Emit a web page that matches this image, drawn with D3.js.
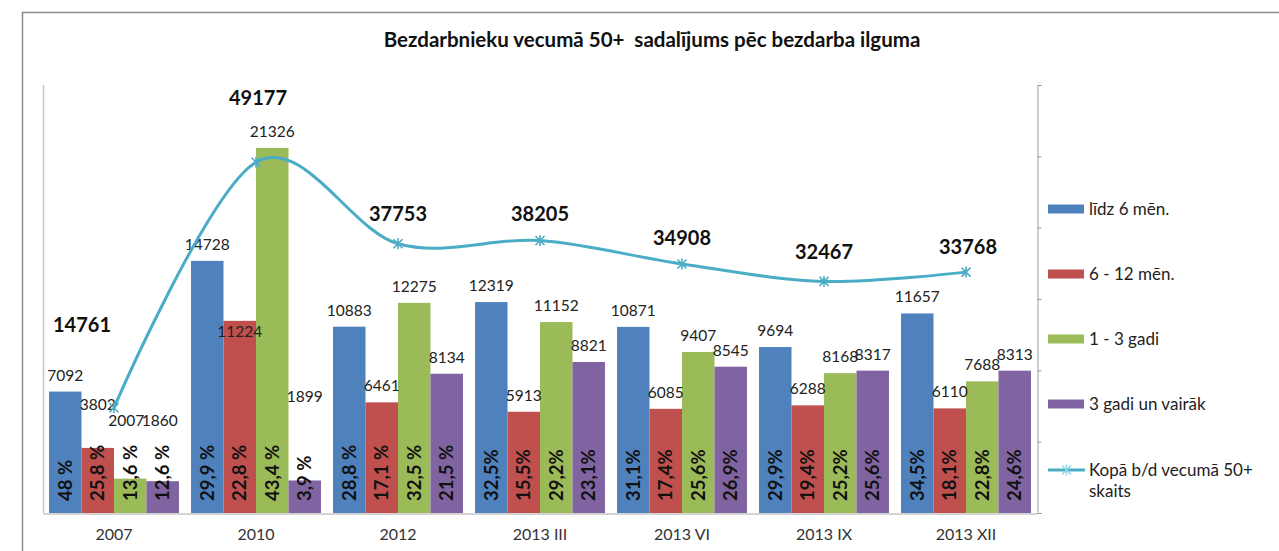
<!DOCTYPE html>
<html lang="lv">
<head>
    <meta charset="UTF-8">
    <title>Bezdarbnieku vecumā 50+ sadalījums pēc bezdarba ilguma</title>
    <script src="https://d3js.org/d3.v7.min.js"></script>
    <style>
        body { margin: 0; background: #fff; }
        svg { display: block; font-family: Lato, "Open Sans", sans-serif; }
    </style>
</head>
<body>
    <svg id="chart" width="1279" height="551"></svg>
    <script>
        // dati
        const categories = ["2007", "2010", "2012", "2013 III", "2013 VI", "2013 IX", "2013 XII"];
        const seriesNames = ["līdz 6 mēn.", "6 - 12 mēn.", "1 - 3 gadi", "3 gadi un vairāk"];
        const upTo6 = [7092, 14728, 10883, 12319, 10871, 9694, 11657];
        const from6to12 = [3802, 11224, 6461, 5913, 6085, 6288, 6110];
        const from1to3 = [2007, 21326, 12275, 11152, 9407, 8168, 7688];
        const over3 = [1860, 1899, 8134, 8821, 8545, 8317, 8313];
        const totalName = "Kopā b/d vecumā 50+ skaits";
        const total = [14761, 49177, 37753, 38205, 34908, 32467, 33768];
        const pctUpTo6 = ["48 %", "29,9 %", "28,8 %", "32,5%", "31,1%", "29,9%", "34,5%"];
        const pct6to12 = ["25,8 %", "22,8 %", "17,1 %", "15,5%", "17,4%", "19,4%", "18,1%"];
        const pct1to3 = ["13,6 %", "43,4 %", "32,5 %", "29,2%", "25,6%", "25,2%", "22,8%"];
        const pctOver3 = ["12,6 %", "3,9 %", "21,5 %", "23,1%", "26,9%", "25,6%", "24,6%"];

        const seriesValues = [upTo6, from6to12, from1to3, over3];
        const seriesPct = [pctUpTo6, pct6to12, pct1to3, pctOver3];
        const colors = ["#4F81BD", "#C0504D", "#9BBB59", "#8064A2"];
        const lineColor = "#4BACC6";

        const svg = d3.select("#chart");
        const plotL = 43, plotR = 1037, plotT = 85, plotB = 513;

        // rāmis
        svg.append("path")
            .attr("d", "M22.5,551 V12.5 H1279")
            .attr("fill", "none").attr("stroke", "#8c8c8c").attr("stroke-width", 1.5);

        svg.append("text")
            .attr("x", 652).attr("y", 47)
            .attr("text-anchor", "middle")
            .attr("font-weight", "bold").attr("font-size", 20.5)
            .attr("fill", "#111")
            .attr("xml:space", "preserve")
            .text("Bezdarbnieku vecumā 50+  sadalījums pēc bezdarba ilguma");

        const x0 = d3.scaleBand().domain(categories).range([plotL, plotR])
            .paddingInner(0.085).paddingOuter(0.0425);
        const x1 = d3.scaleBand().domain(d3.range(4)).range([0, x0.bandwidth()]);
        const y = d3.scaleLinear().domain([0, 25000]).range([plotB, plotT]);
        const y2 = d3.scaleLinear().domain([0, 60000]).range([plotB, plotT]);

        // asis
        svg.append("line").attr("x1", plotL + 0.5).attr("x2", plotL + 0.5)
            .attr("y1", plotT).attr("y2", plotB).attr("stroke", "#c4c4c4").attr("stroke-width", 1.5);

        const rAxis = svg.append("g").attr("transform", `translate(${plotR + 0.5},0)`)
            .call(d3.axisRight(y2).ticks(6).tickSize(4).tickFormat(""));
        rAxis.select(".domain").attr("stroke", "#9a9a9a");
        rAxis.selectAll(".tick line").attr("stroke", "#9a9a9a");

        const xAxis = svg.append("g").attr("transform", `translate(0,${plotB + 0.5})`)
            .call(d3.axisBottom(x0).tickSize(0).tickPadding(15));
        xAxis.select(".domain").attr("stroke", "#c4c4c4").attr("stroke-width", 1.5);
        xAxis.selectAll("text").attr("font-size", 16).attr("fill", "#333")
            .attr("font-family", "Lato, sans-serif");

        // stabiņi
        const groups = svg.append("g").selectAll("g").data(categories).join("g")
            .attr("transform", d => `translate(${x0(d)},0)`);

        groups.selectAll("rect")
            .data((c, ci) => seriesValues.map((s, si) => ({ si, ci, v: s[ci] })))
            .join("rect")
            .attr("x", d => x1(d.si))
            .attr("width", x1.bandwidth())
            .attr("y", d => y(d.v))
            .attr("height", d => plotB - y(d.v))
            .attr("fill", d => colors[d.si]);

        // vērtību etiķetes (Excel pārvietotās)
        const labelShift = {
            "1-0": [0, -38], "2-0": [-4, -53], "3-0": [-3, -55],
            "3-1": [0, -78], "1-1": [0, 16]
        };
        groups.selectAll("text.val")
            .data((c, ci) => seriesValues.map((s, si) => ({ si, ci, v: s[ci] })))
            .join("text").attr("class", "val")
            .attr("x", d => x1(d.si) + x1.bandwidth() / 2 + (labelShift[d.si + "-" + d.ci] || [0, -11])[0])
            .attr("y", d => y(d.v) + (labelShift[d.si + "-" + d.ci] || [0, -11])[1])
            .attr("text-anchor", "middle")
            .attr("font-size", 15.5).attr("fill", "#222")
            .text(d => d.v);

        groups.selectAll("text.pct")
            .data((c, ci) => seriesPct.map((s, si) => ({ si, ci, t: s[ci] })))
            .join("text").attr("class", "pct")
            .attr("transform", d => `translate(${x1(d.si) + x1.bandwidth() / 2 + 6.5},${plotB - 12}) rotate(-90)`)
            .attr("font-size", 18.5).attr("font-weight", "bold").attr("fill", "#111")
            .attr("xml:space", "preserve")
            .text(d => d.t);

        // kopējā līnija
        const pts = total.map((v, i) => [x0(categories[i]) + x0.bandwidth() / 2, y2(v)]);
        svg.append("path")
            .attr("d", d3.line().curve(d3.curveCardinal.tension(0))(pts))
            .attr("fill", "none").attr("stroke", lineColor).attr("stroke-width", 3);

        const star = "M0,-5.5V5.5M-4.5,-4.5L4.5,4.5M-4.5,4.5L4.5,-4.5";
        svg.append("g").selectAll("path").data(pts).join("path")
            .attr("transform", d => `translate(${d[0]},${d[1]})`)
            .attr("d", star).attr("stroke", lineColor).attr("stroke-width", 1.6).attr("fill", "none");

        const totalShift = { 0: [-32, -76], 1: [2, -57], 2: [0, -23], 3: [0, -19], 4: [0, -19], 5: [0, -22], 6: [2, -18] };
        svg.append("g").selectAll("text").data(total).join("text")
            .attr("x", (d, i) => pts[i][0] + totalShift[i][0])
            .attr("y", (d, i) => pts[i][1] + totalShift[i][1])
            .attr("text-anchor", "middle")
            .attr("font-size", 20).attr("font-weight", "bold").attr("fill", "#111")
            .text(d => d);

        // leģenda
        const legend = svg.append("g").attr("transform", "translate(1048,0)");
        const legendY = [209, 274, 339, 404];
        seriesNames.forEach((n, i) => {
            legend.append("rect").attr("x", 0).attr("y", legendY[i] - 4.5)
                .attr("width", 36).attr("height", 9).attr("fill", colors[i]);
            legend.append("text").attr("x", 41).attr("y", legendY[i] + 6)
                .attr("font-size", 17).attr("fill", "#222").text(n);
        });
        legend.append("line").attr("x1", 0).attr("x2", 37).attr("y1", 470).attr("y2", 470)
            .attr("stroke", lineColor).attr("stroke-width", 3);
        legend.append("path").attr("transform", "translate(18.5,470)").attr("d", star)
            .attr("stroke", "#8fd3e6").attr("stroke-width", 1.4);
        const lt = legend.append("text").attr("x", 41).attr("y", 476)
            .attr("font-size", 17).attr("fill", "#222");
        lt.append("tspan").text("Kopā b/d vecumā 50+");
        lt.append("tspan").attr("x", 41).attr("dy", 21).text("skaits");
    </script>
</body>
</html>
